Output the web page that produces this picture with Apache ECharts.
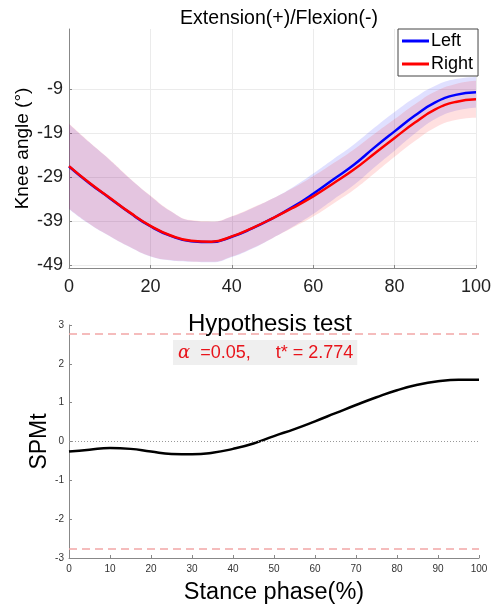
<!DOCTYPE html>
<html>
<head>
<meta charset="utf-8">
<script src="https://cdn.jsdelivr.net/npm/echarts@6/dist/echarts.min.js"></script>
<style>
  html, body { margin: 0; padding: 0; background: #fff; }
  #main { width: 494px; height: 607px; }
</style>
</head>
<body>
<div id="main"></div>
<script>
var FONT = 'Helvetica, Arial, "Liberation Sans", sans-serif';

// stance phase (%)
var phase = [0, 5, 10, 15, 20, 25, 30, 35, 40, 45, 50, 55, 60, 65, 70, 75, 80, 85, 90, 95, 100];
// knee angle means and SDs (deg)
var leftMean = [-26.6, -30.4, -33.8, -37.2, -40.2, -42.4, -43.6, -43.8, -42.6, -40.7, -38.4, -35.8, -32.8, -29.5, -26.2, -22.3, -18.6, -15.0, -12.0, -10.3, -9.7];
var rightMean = [-26.5, -30.3, -33.7, -37.1, -40.1, -42.3, -43.5, -43.7, -42.5, -40.6, -38.4, -36.0, -33.4, -30.4, -27.3, -23.7, -20.1, -16.6, -13.6, -11.9, -11.3];
var leftSd = [9.7, 9.3, 8.7, 7.8, 6.9, 5.6, 4.7, 4.6, 4.6, 4.6, 4.5, 4.5, 4.6, 4.6, 4.6, 4.5, 4.4, 4.1, 3.8, 3.6, 3.5];
var rightSd = [9.7, 9.3, 8.7, 7.8, 6.9, 5.6, 4.7, 4.6, 4.6, 4.6, 4.5, 4.5, 4.6, 4.6, 4.6, 4.5, 4.3, 4.2, 4.1, 4.1, 4.2];
var angleTicks = [-49, -39, -29, -19, -9];

// SPM t statistic
var spmT = [-0.26, -0.21, -0.17, -0.19, -0.26, -0.32, -0.33, -0.29, -0.19, -0.05, 0.14, 0.32, 0.52, 0.73, 0.94, 1.14, 1.32, 1.46, 1.55, 1.59, 1.59];
var tCrit = 2.774;
var alpha = 0.05;

var myChart = echarts.init(document.getElementById('main'));

function pairs(vals) {
    return phase.map(function (x, i) { return [x, vals[i]]; });
}

// band = lower edge + stacked width (widths are positive, lower edge negative -> stackStrategy all)
function bandSeries(name, mean, sd, color) {
    var lower = mean.map(function (m, i) { return m - sd[i]; });
    var width = sd.map(function (s) { return 2 * s; });
    return [{
        name: name + 'Lo', type: 'line', xAxisIndex: 0, yAxisIndex: 0,
        stack: name, stackStrategy: 'all', smooth: true, symbol: 'none', silent: true,
        lineStyle: { opacity: 0 },
        data: lower
    }, {
        name: name + 'Band', type: 'line', xAxisIndex: 0, yAxisIndex: 0,
        stack: name, stackStrategy: 'all', smooth: true, symbol: 'none', silent: true,
        lineStyle: { opacity: 0 },
        areaStyle: { color: color, opacity: 1 },
        data: width
    }];
}

var series = []
    .concat(bandSeries('L', leftMean, leftSd, 'rgba(0,0,255,0.12)'))
    .concat(bandSeries('R', rightMean, rightSd, 'rgba(255,0,0,0.12)'));

series.push({
    name: 'Left', type: 'line', xAxisIndex: 0, yAxisIndex: 0,
    smooth: true, symbol: 'none',
    lineStyle: { color: '#0000ff', width: 2.5 }, itemStyle: { color: '#0000ff' },
    data: leftMean
});
series.push({
    name: 'Right', type: 'line', xAxisIndex: 0, yAxisIndex: 0,
    smooth: true, symbol: 'none',
    lineStyle: { color: '#ff0000', width: 2.5 }, itemStyle: { color: '#ff0000' },
    data: rightMean
});
series.push({
    name: 'SPM', type: 'line', xAxisIndex: 1, yAxisIndex: 1,
    smooth: true, symbol: 'none',
    lineStyle: { color: '#000', width: 2.5 },
    data: pairs(spmT),
    markLine: {
        silent: true, symbol: 'none', label: { show: false },
        data: [
            { yAxis: tCrit, lineStyle: { color: '#f2a6a6', type: [8, 5], width: 1.5 } },
            { yAxis: -tCrit, lineStyle: { color: '#f2a6a6', type: [8, 5], width: 1.5 } },
            { yAxis: 0, lineStyle: { color: '#999', type: [1, 2], width: 1 } }
        ]
    }
});

var option = {
    animation: false,
    textStyle: { fontFamily: FONT },
    title: [{
        text: 'Extension(+)/Flexion(-)', left: 274, top: 4, textAlign: 'center',
        textStyle: { fontFamily: FONT, fontSize: 19.5, fontWeight: 'normal', color: '#000' }
    }, {
        text: 'Hypothesis test', left: 265, top: 307, textAlign: 'center',
        textStyle: { fontFamily: FONT, fontSize: 24, fontWeight: 'normal', color: '#000' }
    }],
    legend: {
        data: ['Left', 'Right'], orient: 'vertical', icon: 'rect',
        left: 398, top: 29, padding: [3, 5, 3, 4], itemGap: 5,
        itemWidth: 27, itemHeight: 3,
        borderColor: '#444', borderWidth: 1, backgroundColor: '#fff',
        textStyle: { fontFamily: FONT, fontSize: 18, color: '#000', padding: [0, 0, 0, -3] }
    },
    grid: [
        { left: 69, right: 15, top: 29, height: 239 },
        { left: 69, right: 15, top: 325, height: 233 }
    ],
    xAxis: [{
        type: 'category', gridIndex: 0, data: phase.map(String), boundaryGap: false,
        axisLine: { onZero: false, lineStyle: { color: '#888' } },
        axisTick: { inside: true, length: 3, interval: 3, lineStyle: { color: '#888' } },
        axisLabel: { fontSize: 18, color: '#222', margin: 10, interval: 3 },
        splitLine: { show: true, interval: 3, lineStyle: { color: '#ebebeb' } }
    }, {
        type: 'value', gridIndex: 1, min: 0, max: 100, interval: 10,
        name: 'Stance phase(%)', nameLocation: 'middle', nameGap: 23, nameMoveOverlap: false,
        nameTextStyle: { fontFamily: FONT, fontSize: 23.5, color: '#000' },
        axisLine: { onZero: false, lineStyle: { color: '#888' } },
        axisTick: { inside: true, length: 3, lineStyle: { color: '#888' } },
        axisLabel: { fontSize: 10, color: '#333', margin: 6 },
        splitLine: { show: false }
    }],
    yAxis: [{
        type: 'value', gridIndex: 0, min: -49.7, max: 4.7,
        name: 'Knee angle (°)', nameLocation: 'middle', nameGap: 37, nameMoveOverlap: false,
        nameTextStyle: { fontFamily: FONT, fontSize: 19, color: '#000' },
        axisLine: { show: true, onZero: false, lineStyle: { color: '#888' } },
        axisTick: { show: true, inside: true, length: 3, customValues: angleTicks, lineStyle: { color: '#888' } },
        axisLabel: { fontSize: 18, color: '#222', margin: 6, customValues: angleTicks },
        splitLine: { show: true, lineStyle: { color: '#ebebeb' } }
    }, {
        type: 'value', gridIndex: 1, min: -3, max: 3, interval: 1,
        name: 'SPMt', nameLocation: 'middle', nameGap: 18, nameMoveOverlap: false,
        nameTextStyle: { fontFamily: FONT, fontSize: 23, color: '#000' },
        axisLine: { show: true, onZero: false, lineStyle: { color: '#888' } },
        axisTick: { show: true, inside: true, length: 3, lineStyle: { color: '#888' } },
        axisLabel: { fontSize: 10, color: '#333', margin: 5 },
        splitLine: { show: false }
    }],
    graphic: [{
        type: 'text', left: 173, top: 340, z: 100,
        style: {
            text: '{a|α}  =' + alpha.toFixed(2) + ',     t* = ' + tCrit,
            fill: '#e8141b', font: '18px ' + FONT,
            backgroundColor: '#efefef', padding: [4, 4, 3, 5],
            rich: {
                a: { fontFamily: '"DejaVu Serif", "Liberation Serif", serif', fontStyle: 'italic', fontSize: 18, fill: '#e8141b' }
            }
        }
    }],
    series: series
};

myChart.setOption(option);
</script>
</body>
</html>
